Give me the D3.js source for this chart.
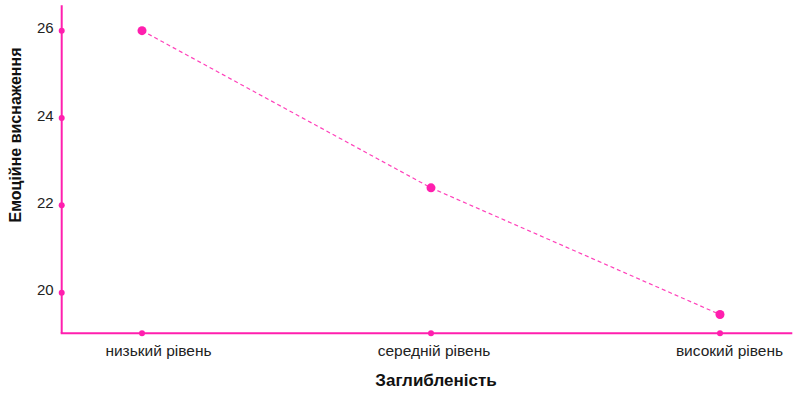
<!DOCTYPE html>
<html>
<head>
<meta charset="utf-8">
<script src="https://cdn.jsdelivr.net/npm/d3@7"></script>
<style>
  html, body { margin: 0; padding: 0; background: #fff; }
  svg { display: block; font-family: "Liberation Sans", Arial, Helvetica, sans-serif; }
</style>
</head>
<body>
<svg id="chart" width="798" height="394"></svg>
<script>
// Emotional exhaustion by level of engagement
const categories = ["низький рівень", "середній рівень", "високий рівень"];
const values = [26.0, 22.4, 19.5];
const yTicks = [20, 22, 24, 26];
const xTitle = "Заглибленість";
const yTitle = "Емоційне виснаження";

const pink = "#ff1fae";
const svg = d3.select("#chart");

const x = d3.scalePoint().domain(categories).range([142, 720]);
const y = d3.scaleLinear().domain([19.07, 26.58]).range([333.3, 5.3]);

const left = 61.7, right = 792.3, bottom = 333.3;
// category labels sit slightly right of their tick marks
const labelShift = [16.5, 3, 9.5];

// axis lines
svg.append("line")
  .attr("x1", left).attr("x2", left)
  .attr("y1", y.range()[1]).attr("y2", bottom)
  .attr("stroke", pink).attr("stroke-width", 2);
svg.append("line")
  .attr("x1", left - 1).attr("x2", right)
  .attr("y1", bottom).attr("y2", bottom)
  .attr("stroke", pink).attr("stroke-width", 2);

// y ticks: dots on the axis with labels
svg.selectAll(".ytick").data(yTicks).join("circle")
  .attr("class", "ytick")
  .attr("cx", left).attr("cy", d => y(d)).attr("r", 3)
  .attr("fill", pink);
svg.selectAll(".ylabel").data(yTicks).join("text")
  .attr("class", "ylabel")
  .attr("x", left - 8).attr("y", d => y(d) - 2.5)
  .attr("dy", "0.35em")
  .attr("text-anchor", "end")
  .attr("font-size", 15)
  .attr("fill", "#222")
  .text(d => d);

// x ticks
svg.selectAll(".xtick").data(categories).join("circle")
  .attr("class", "xtick")
  .attr("cx", d => x(d)).attr("cy", bottom).attr("r", 3)
  .attr("fill", pink);
svg.selectAll(".xlabel").data(categories).join("text")
  .attr("class", "xlabel")
  .attr("x", (d, i) => x(d) + labelShift[i]).attr("y", 356)
  .attr("text-anchor", "middle")
  .attr("font-size", 15.5)
  .attr("fill", "#222")
  .text(d => d);

// dashed connecting line
const pts = categories.map((c, i) => [x(c), y(values[i])]);
svg.append("path")
  .attr("d", d3.line()(pts))
  .attr("fill", "none")
  .attr("stroke", pink)
  .attr("stroke-opacity", 0.85)
  .attr("stroke-width", 1.2)
  .attr("stroke-dasharray", "4,3");

// data points
svg.selectAll(".pt").data(values).join("circle")
  .attr("class", "pt")
  .attr("cx", (d, i) => x(categories[i])).attr("cy", d => y(d)).attr("r", 4.5)
  .attr("fill", pink);

// axis titles
svg.append("text")
  .attr("x", 436).attr("y", 386)
  .attr("text-anchor", "middle")
  .attr("font-size", 17).attr("font-weight", "bold")
  .attr("fill", "#111")
  .text(xTitle);
svg.append("text")
  .attr("transform", "translate(21,135) rotate(-90)")
  .attr("text-anchor", "middle")
  .attr("font-size", 16).attr("font-weight", "bold")
  .attr("fill", "#111")
  .text(yTitle);
</script>
</body>
</html>
